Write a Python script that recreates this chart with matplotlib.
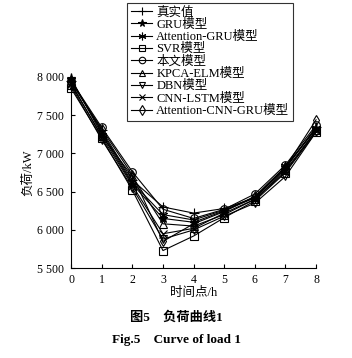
import matplotlib
matplotlib.use("Agg")
import matplotlib.pyplot as plt
from matplotlib.ticker import FuncFormatter

plt.rcParams['font.family'] = ['Liberation Serif', 'Noto Sans CJK SC']
plt.rcParams['mathtext.fontset'] = 'stix'

hours = [0, 1, 2, 3, 4, 5, 6, 7, 8]
true_vals = [7950, 7300, 6650, 6300, 6220, 6280, 6420, 6800, 7350]
gru = [7980, 7250, 6600, 6150, 6100, 6250, 6420, 6820, 7320]
att_gru = [7960, 7280, 6620, 6200, 6130, 6260, 6430, 6830, 7330]
svr = [7850, 7200, 6520, 5730, 5920, 6160, 6380, 6750, 7280]
ours = [7950, 7340, 6760, 6270, 6150, 6270, 6470, 6850, 7370]
kpca_elm = [7900, 7230, 6700, 6080, 6050, 6200, 6400, 6780, 7300]
dbn = [7880, 7180, 6550, 5880, 6000, 6180, 6350, 6700, 7280]
cnn_lstm = [7920, 7220, 6580, 5950, 6020, 6220, 6400, 6760, 7300]
att_cnn_gru = [7930, 7320, 6720, 5850, 6080, 6240, 6440, 6820, 7440]

labels = ['真实值', 'GRU模型', 'Attention-GRU模型', 'SVR模型', '本文模型',
          'KPCA-ELM模型', 'DBN模型', 'CNN-LSTM模型', 'Attention-CNN-GRU模型']
series = [true_vals, gru, att_gru, svr, ours, kpca_elm, dbn, cnn_lstm, att_cnn_gru]
markers = ['+', '*', (6, 2, 0), 's', 'o', '^', 'v', 'x', 'd']
msizes = [7, 6.5, 6.5, 5.5, 5.5, 5.5, 5.5, 5.5, 5.5]

fig = plt.figure(figsize=(3.52, 3.58), dpi=100)
ax = fig.add_axes([0.202, 0.251, 0.696, 0.534])

for vals, lab, mk, ms in zip(series, labels, markers, msizes):
    filled = mk in ('*', (6, 2, 0), '+', 'x')
    ax.plot(hours, vals, color='black', lw=0.8, marker=mk, markersize=ms,
            markerfacecolor='black' if filled else 'none',
            markeredgecolor='black', markeredgewidth=0.8, label=lab,
            clip_on=False)

ax.set_xlim(0, 8)
ax.set_ylim(5500, 8000)
ax.set_xticks(range(0, 9))
ax.set_yticks([5500, 6000, 6500, 7000, 7500, 8000])
ax.yaxis.set_major_formatter(FuncFormatter(lambda v, p: f"{int(v):,}".replace(',', ' ')))
for s in ['top', 'right']:
    ax.spines[s].set_visible(False)
for s in ['left', 'bottom']:
    ax.spines[s].set_linewidth(0.8)
ax.tick_params(direction='in', length=3, width=0.8, labelsize=8.5)
ax.tick_params(axis='y', pad=5)
ax.tick_params(axis='x', pad=4)

ax.set_xlabel('时间点/h', fontsize=9, labelpad=1)
ax.set_ylabel('负荷/kW', fontsize=9, labelpad=2)

leg = fig.legend(loc='upper left', bbox_to_anchor=(0.362, 0.993), fontsize=9,
                 frameon=True, fancybox=False, edgecolor='black',
                 handlelength=1.7, handletextpad=0.3, labelspacing=0.02,
                 borderpad=0.3, borderaxespad=0, markerscale=0.85)
leg.get_frame().set_linewidth(0.8)

fig.text(0.5, 0.112, '图5　负荷曲线1', ha='center', va='center', fontsize=9.5, fontweight='bold')
fig.text(0.5, 0.05, 'Fig.5　Curve of load 1', ha='center', va='center', fontsize=9.5, fontweight='bold')

fig.savefig('out.png', dpi=100)
